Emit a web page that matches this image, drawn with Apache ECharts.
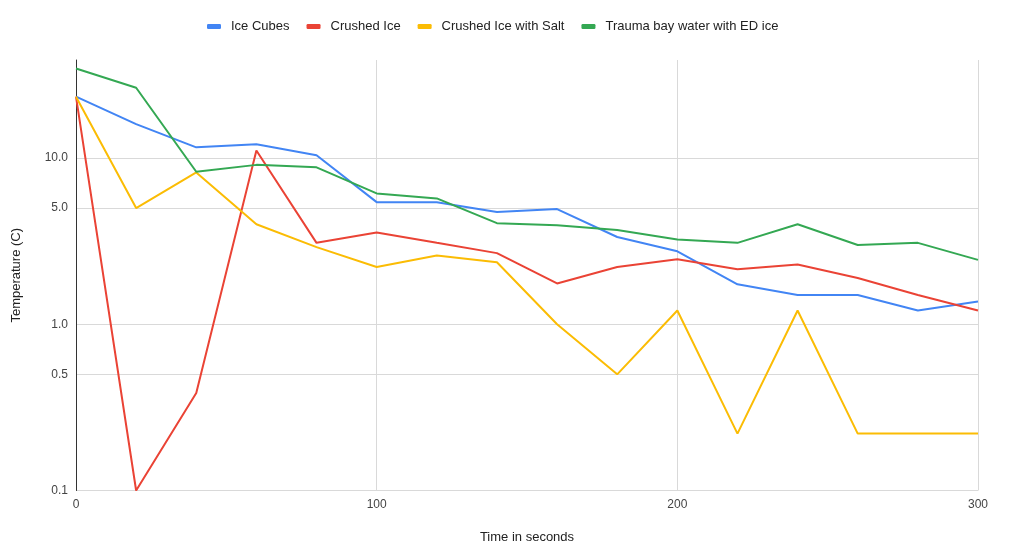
<!DOCTYPE html>
<html>
<head>
<meta charset="utf-8">
<script src="https://cdn.jsdelivr.net/npm/echarts@6/dist/echarts.min.js"></script>
<style>
html,body{margin:0;padding:0;background:#fff;}
#chart{width:1009px;height:559px;}
</style>
</head>
<body>
<div id="chart"></div>
<script>
const times = [0,20,40,60,80,100,120,140,160,180,200,220,240,260,280,300];
const iceCubes = [23.4,16.0,11.6,12.1,10.4,5.43,5.43,4.73,4.93,3.35,2.75,1.74,1.5,1.5,1.21,1.37];
const crushedIce = [23.4,0.1,0.386,11.1,3.09,3.57,3.09,2.68,1.76,2.21,2.46,2.14,2.29,1.9,1.5,1.21];
const crushedIceSalt = [23.4,5.0,8.2,4.0,2.91,2.21,2.59,2.36,1.0,0.5,1.21,0.22,1.21,0.22,0.22,0.22];
const traumaBay = [34.6,26.5,8.27,9.1,8.79,6.13,5.72,4.06,3.94,3.69,3.24,3.09,4.0,3.0,3.09,2.44];
const yTicks = [0.1,0.5,1,5,10];
const xTicks = [0,100,200,300];
const seriesNames = ['Ice Cubes','Crushed Ice','Crushed Ice with Salt','Trauma bay water with ED ice'];
const seriesData = [iceCubes, crushedIce, crushedIceSalt, traumaBay];
const colors = ['#4285F4','#EA4335','#FBBC04','#34A853'];

const font = 'Arial, "Liberation Sans", sans-serif';
const chart = echarts.init(document.getElementById('chart'));
chart.setOption({
  animation: false,
  color: colors,
  textStyle: {fontFamily: font},
  legend: {
    top: 15, left: 202,
    icon: 'roundRect', itemWidth: 14, itemHeight: 5, itemGap: 17,
    textStyle: {fontSize: 13, color: '#222', fontFamily: font, padding: [0, 0, 0, 5]},
    data: seriesNames
  },
  grid: {left: 76, right: 31, top: 60, bottom: 68.5, containLabel: false},
  xAxis: {
    type: 'value', min: 0, max: 300, interval: 100,
    name: 'Time in seconds', nameLocation: 'middle', nameGap: 40,
    nameTextStyle: {fontSize: 13, color: '#222', fontFamily: font},
    axisLine: {show: false},
    axisTick: {show: false},
    axisLabel: {fontSize: 12, color: '#444', margin: 8, fontFamily: font},
    splitLine: {show: true, lineStyle: {color: '#d9d9d9', width: 1}}
  },
  yAxis: {
    type: 'log', logBase: 10, min: 0.1, max: 38.9,
    name: 'Temperature (C)', nameLocation: 'middle', nameGap: 53,
    nameTextStyle: {fontSize: 13, color: '#222', fontFamily: font},
    axisLine: {show: true, onZero: false, lineStyle: {color: '#333', width: 1}},
    axisTick: {show: false, customValues: yTicks},
    axisLabel: {fontSize: 12, color: '#444', margin: 8, fontFamily: font, customValues: yTicks,
      formatter: v => Number(v).toFixed(1)},
    splitLine: {show: true, lineStyle: {color: '#d9d9d9', width: 1}}
  },
  series: seriesData.map((d, i) => ({
    name: seriesNames[i], type: 'line',
    data: d.map((v, j) => [times[j], v]),
    showSymbol: false, symbol: 'none',
    lineStyle: {width: 2, color: colors[i]},
    itemStyle: {color: colors[i]},
    z: 2 + i
  }))
});
</script>
</body>
</html>
